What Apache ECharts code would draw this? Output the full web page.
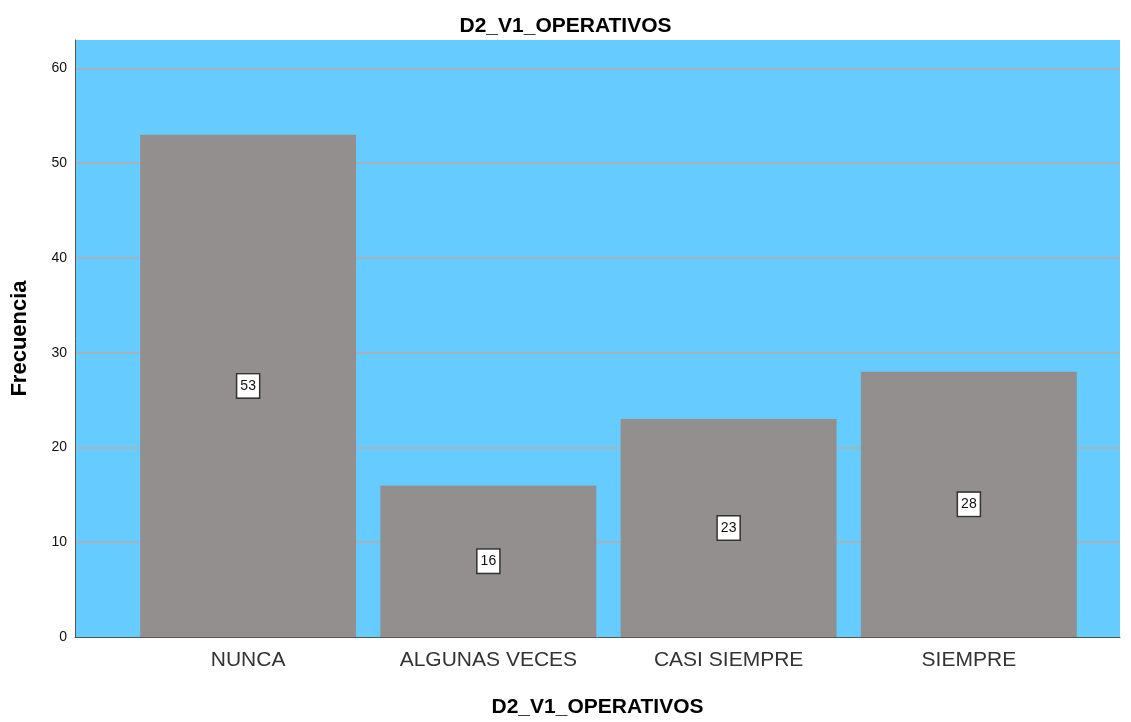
<!DOCTYPE html>
<html>
<head>
<meta charset="utf-8">
<script src="https://cdn.jsdelivr.net/npm/echarts@6/dist/echarts.min.js"></script>
<style>
  html, body { margin: 0; padding: 0; background: #fff; }
  #chart { width: 1131px; height: 722px; }
</style>
</head>
<body>
<div id="chart"></div>
<script>
(function() {
  'use strict';

  var categories = ['NUNCA', 'ALGUNAS VECES', 'CASI SIEMPRE', 'SIEMPRE'];
  var frecuencia = [53, 16, 23, 28];
  var yMax = 63;

  var colorBg = '#66ccff';
  var colorBar = '#938f8e';
  var colorGrid = '#a2b4bf';
  var colorAxis = '#555555';
  var fontFamily = '"Liberation Sans", Arial, sans-serif';

  var chart = echarts.init(document.getElementById('chart'));

  chart.setOption({
    animation: false,
    title: {
      text: 'D2_V1_OPERATIVOS',
      left: 'center',
      top: 11,
      textStyle: { fontFamily: fontFamily, fontSize: 21, fontWeight: 'bold', color: '#000' }
    },
    grid: [
      // background plot area with value axis
      { left: 75, right: 11, top: 40, bottom: 85, show: true, backgroundColor: colorBg, borderWidth: 0, outerBoundsMode: 'none', containLabel: false },
      // bars, inset like the original
      { left: 128, right: 42, top: 40, bottom: 85, outerBoundsMode: 'none', containLabel: false }
    ],
    xAxis: [
      {
        gridIndex: 0,
        type: 'category',
        data: categories,
        z: 5,
        axisLine: { lineStyle: { color: colorAxis, width: 1 } },
        axisTick: { show: false },
        axisLabel: { show: false },
        name: 'D2_V1_OPERATIVOS',
        nameLocation: 'middle',
        nameGap: 60,
        nameTextStyle: { fontFamily: fontFamily, fontSize: 21, fontWeight: 'bold', color: '#000' }
      },
      {
        gridIndex: 1,
        type: 'category',
        data: categories,
        axisLine: { show: false },
        axisTick: { show: false },
        axisLabel: { fontFamily: fontFamily, fontSize: 21, color: '#333', margin: 13 }
      }
    ],
    yAxis: [
      {
        gridIndex: 0,
        type: 'value',
        min: 0,
        max: yMax,
        interval: 10,
        axisLine: { show: true, lineStyle: { color: colorAxis, width: 1 } },
        axisTick: { show: false },
        axisLabel: { fontFamily: fontFamily, fontSize: 14, color: '#111', margin: 8, showMaxLabel: false },
        splitLine: { showMinLine: false, showMaxLine: false, lineStyle: { color: colorGrid, width: 2 } },
        name: 'Frecuencia',
        nameLocation: 'middle',
        nameGap: 44,
        nameTextStyle: { fontFamily: fontFamily, fontSize: 22, fontWeight: 'bold', color: '#000' }
      },
      {
        gridIndex: 1,
        type: 'value',
        min: 0,
        max: yMax,
        show: false
      }
    ],
    series: [
      {
        name: 'Frecuencia',
        type: 'bar',
        xAxisIndex: 1,
        yAxisIndex: 1,
        data: frecuencia,
        barWidth: 216,
        itemStyle: { color: colorBar },
        label: {
          show: true,
          position: 'inside',
          fontFamily: fontFamily,
          fontSize: 14,
          color: '#111',
          backgroundColor: '#fff',
          borderColor: '#333',
          borderWidth: 1.5,
          padding: [5, 3, 4, 3]
        }
      }
    ]
  });

  window.addEventListener('resize', function() { chart.resize(); });
})();
</script>
</body>
</html>
